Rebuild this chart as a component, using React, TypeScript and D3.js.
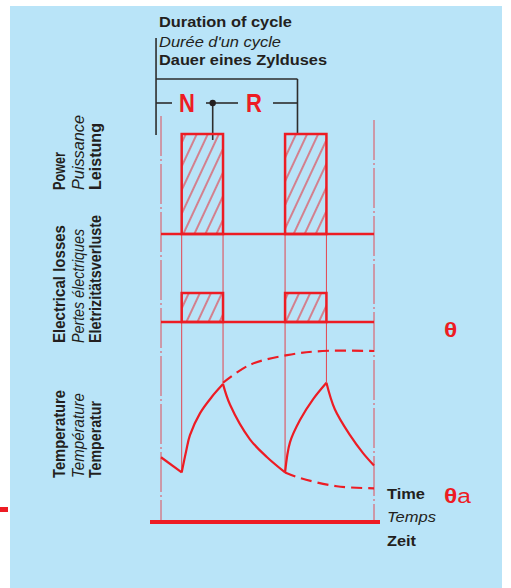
import React from "react";
import * as d3 from "d3";

// ---- data ----
const timeDomain = [0, 10.3];
const pulseStart = [1, 6];
const pulseEnd = [3, 8];
const powerLevel = [1, 1];
const lossLevel = [1, 1];
const pulseLabels = ["N", "R"];
const pulseLabelT = [1.25, 4.5];

// temperature (0 = ambient θa, 100 = steady θ)
const tempStart: [number, number][] = [[0, 23], [1, 12]];
const tempHeat1: [number, number][] = [[1, 12], [1.21, 27], [1.4, 39], [1.89, 55], [2.47, 67], [3, 76]];
const tempCool1: [number, number][] = [[3, 76], [3.34, 61], [4.3, 36], [5.13, 23], [6, 12]];
const tempHeat2: [number, number][] = [[6, 12], [6.24, 34], [6.72, 50], [7.35, 65], [8, 77]];
const tempCool2: [number, number][] = [[8, 77], [8.4, 58], [9.14, 39], [9.77, 26], [10.3, 17]];
const upperEnvelope: [number, number][] = [[3, 77], [4.3, 90], [6.1, 97], [7.8, 100], [10.3, 100]];
const lowerEnvelope: [number, number][] = [[6, 12], [6.72, 8], [8.5, 2], [10.3, 0.5]];

// cycle dimension marks (time units)
const cycleDimT = [-0.24, 6.6];
const splitT = 2.5;

const rowLabels = [
  ["Power", "Puissance", "Leistung"],
  ["Electrical losses", "Pertes électriques", "Eletrizitätsverluste"],
  ["Temperature", "Température", "Temperatur"],
];
const titleLines = ["Duration of cycle", "Durée d'un cycle", "Dauer eines Zylduses"];
const timeLabels = ["Time", "Temps", "Zeit"];

const RED = "#ed1c24";
const INK = "#231f20";
const BG = "#b9e4f8";
const FONT = "'Liberation Sans', Arial, Helvetica, sans-serif";
const SX = 1.17;

// rendered text lengths (layout)
const rowLabelLen = [
  [38, 75, 67],
  [118, 114, 128],
  [88, 85, 77],
];
const titleLen = [133, 122, 168];
const timeLen = [38, 49, 29];

export default function App() {
  const x = d3.scaleLinear().domain(timeDomain).range([161, 374]);
  const yP = d3.scaleLinear().domain([0, 1]).range([234, 134]);
  const yL = d3.scaleLinear().domain([0, 1]).range([322, 293]);
  const yT = d3.scaleLinear().domain([0, 100]).range([489, 351]);

  const line = d3
    .line<[number, number]>()
    .x((d) => x(d[0]))
    .y((d) => yT(d[1]))
    .curve(d3.curveCatmullRom.alpha(0.5));
  const straight = d3
    .line<[number, number]>()
    .x((d) => x(d[0]))
    .y((d) => yT(d[1]));

  const curveSegs = [tempStart, tempHeat1, tempCool1, tempHeat2, tempCool2];
  const valueAt = (t: number) => {
    for (const s of curveSegs) {
      const f = s.find((p) => Math.abs(p[0] - t) < 1e-9);
      if (f) return f[1];
    }
    return 0;
  };
  const edges = [...pulseStart, ...pulseEnd];

  const bold = { fontFamily: FONT, fontWeight: 700, fontSize: 14, fill: INK };
  const ital = { fontFamily: FONT, fontStyle: "italic", fontSize: 14, fill: INK };

  const rowBottoms = [190, 343, 478];
  const rowCols = [65, 84, 101];

  return (
    <svg
      width={511}
      height={588}
      style={{ position: "absolute", left: 0, top: 0, display: "block" }}
    >
      <defs>
        <pattern id="hatch" patternUnits="userSpaceOnUse" width={10} height={10} patternTransform="rotate(25)">
          <line x1={5} y1={-2} x2={5} y2={12} stroke={RED} strokeWidth={1} />
        </pattern>
      </defs>
      <rect x={0} y={0} width={511} height={588} fill="#fff" />
      <rect x={10} y={6} width={492} height={582} fill={BG} />
      <rect x={0} y={507} width={8} height={5} fill={RED} />

      {/* title */}
      {titleLines.map((t, i) => (
        <text
          key={t}
          x={159}
          y={[27, 47, 65][i]}
          textLength={titleLen[i]}
          lengthAdjust="spacingAndGlyphs"
          style={i === 1 ? ital : bold}
        >
          {t}
        </text>
      ))}

      {/* dimension lines */}
      <g stroke="#2d2d2d" strokeWidth={1.6} fill="none">
        <line x1={x(cycleDimT[0])} y1={38} x2={x(cycleDimT[0])} y2={135} />
        <line x1={x(cycleDimT[0])} y1={79} x2={x(cycleDimT[1])} y2={79} />
        <line x1={x(cycleDimT[1])} y1={79} x2={x(cycleDimT[1])} y2={yP(1)} />
        <line x1={x(cycleDimT[0])} y1={103} x2={172} y2={103} />
        <line x1={206} y1={103} x2={238} y2={103} />
        <line x1={273} y1={103} x2={x(cycleDimT[1])} y2={103} />
        <line x1={x(splitT)} y1={103} x2={x(splitT)} y2={140} />
      </g>
      <circle cx={x(splitT)} cy={103} r={3.2} fill={INK} />
      {pulseLabels.map((l, i) => (
        <text
          key={l}
          transform={`translate(${x(pulseLabelT[i])},112) scale(0.88,1)`}
          textAnchor="middle"
          style={{ fontFamily: FONT, fontWeight: 700, fontSize: 25, fill: RED }}
        >
          {l}
        </text>
      ))}

      {/* dash-dot verticals */}
      <g stroke={RED} strokeWidth={1} strokeOpacity={0.75} strokeDasharray="40,3,2,3">
        <line x1={x(timeDomain[0])} y1={116} x2={x(timeDomain[0])} y2={522} />
        <line x1={x(timeDomain[1])} y1={120} x2={x(timeDomain[1])} y2={522} />
      </g>

      {/* edge extension lines */}
      <g stroke={RED} strokeWidth={1} strokeOpacity={0.8}>
        {edges.map((t) => (
          <line key={t} x1={x(t)} y1={yP(0)} x2={x(t)} y2={yT(valueAt(t))} />
        ))}
      </g>

      {/* power pulses */}
      {pulseStart.map((s, i) => (
        <rect
          key={"p" + i}
          x={x(s)}
          y={yP(powerLevel[i])}
          width={x(pulseEnd[i]) - x(s)}
          height={yP(0) - yP(powerLevel[i])}
          fill="url(#hatch)"
          stroke={RED}
          strokeWidth={2.5}
        />
      ))}
      {/* loss pulses */}
      {pulseStart.map((s, i) => (
        <rect
          key={"l" + i}
          x={x(s)}
          y={yL(lossLevel[i])}
          width={x(pulseEnd[i]) - x(s)}
          height={yL(0) - yL(lossLevel[i])}
          fill="url(#hatch)"
          stroke={RED}
          strokeWidth={2.5}
        />
      ))}
      <g stroke={RED} strokeWidth={2.5}>
        <line x1={x(timeDomain[0])} y1={yP(0)} x2={x(timeDomain[1])} y2={yP(0)} />
        <line x1={x(timeDomain[0])} y1={yL(0)} x2={x(timeDomain[1])} y2={yL(0)} />
      </g>

      {/* temperature */}
      <g fill="none" stroke={RED} strokeWidth={2.2} strokeLinejoin="round">
        <path d={straight(tempStart) || ""} />
        <path d={line(tempHeat1) || ""} />
        <path d={line(tempCool1) || ""} />
        <path d={line(tempHeat2) || ""} />
        <path d={line(tempCool2) || ""} />
        <path d={line(upperEnvelope) || ""} strokeDasharray="11,6" />
        <path d={line(lowerEnvelope) || ""} strokeDasharray="11,6" />
      </g>

      {/* time axis */}
      <line x1={150} y1={522} x2={380} y2={522} stroke={RED} strokeWidth={4} />

      {/* θ labels */}
      <text transform={`translate(444,337) scale(${SX},1)`} style={{ fontFamily: FONT, fontWeight: 700, fontSize: 21, fill: RED }}>θ</text>
      <text transform={`translate(444,503) scale(${SX},1)`} style={{ fontFamily: FONT, fontSize: 21, fill: RED }}>
        <tspan fontWeight={700}>θ</tspan>a
      </text>

      {/* time label */}
      {timeLabels.map((t, i) => (
        <text
          key={t}
          x={387}
          y={[499, 522, 546][i]}
          textLength={timeLen[i]}
          lengthAdjust="spacingAndGlyphs"
          style={i === 1 ? ital : bold}
        >
          {t}
        </text>
      ))}

      {/* row labels */}
      {rowLabels.map((grp, r) =>
        grp.map((t, c) => (
          <text
            key={t}
            transform={`translate(${rowCols[c]},${rowBottoms[r]}) scale(1.1,1) rotate(-90)`}
            textLength={rowLabelLen[r][c]}
            lengthAdjust="spacingAndGlyphs"
            style={{ ...(c === 1 ? ital : bold), fontSize: 14.5 }}
          >
            {t}
          </text>
        ))
      )}
    </svg>
  );
}
